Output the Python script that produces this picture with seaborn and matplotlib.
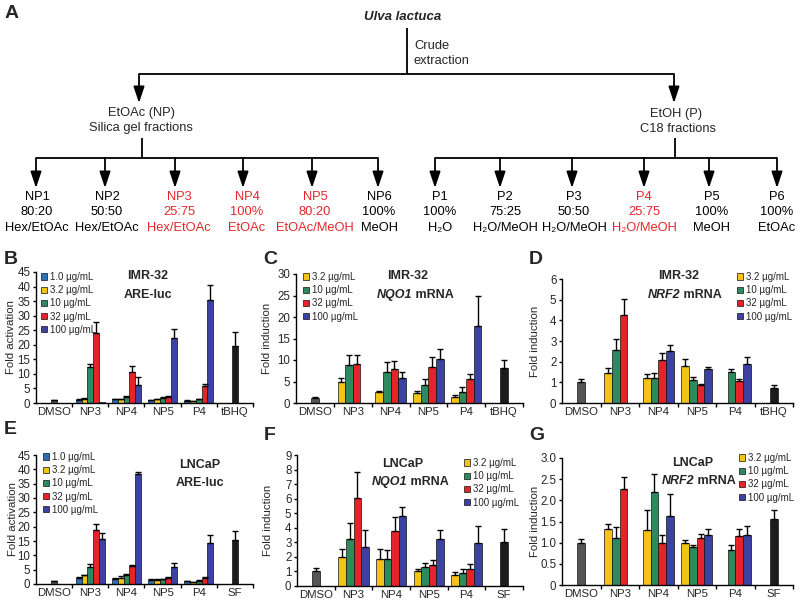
import matplotlib
matplotlib.use('Agg')
import numpy as np
import pandas as pd
import matplotlib.pyplot as plt
import seaborn as sns

sns.set_theme(style='white')
plt.rcParams['font.family'] = ['Liberation Sans', 'DejaVu Sans']

W, H = 800, 606
RED = '#e3262b'
nan = np.nan

# ---------------- data ----------------
conc_labels = ['1.0 µg/mL', '3.2 µg/mL', '10 µg/mL', '32 µg/mL', '100 µg/mL']
conc_colors = ['#2b70b5', '#f5c218', '#2b8a5e', '#e52429', '#3b42a3']
fractions = ['NP3', 'NP4', 'NP5', 'P4']

np_names = ['NP1', 'NP2', 'NP3', 'NP4', 'NP5', 'NP6']
np_ratio = ['80:20', '50:50', '25:75', '100%', '80:20', '100%']
np_solvent = ['Hex/EtOAc', 'Hex/EtOAc', 'Hex/EtOAc', 'EtOAc', 'EtOAc/MeOH', 'MeOH']
p_names = ['P1', 'P2', 'P3', 'P4', 'P5', 'P6']
p_ratio = ['100%', '75:25', '50:50', '25:75', '100%', '100%']
p_solvent = ['H₂O', 'H₂O/MeOH', 'H₂O/MeOH', 'H₂O/MeOH', 'MeOH', 'EtOAc']
active = ['NP3', 'NP4', 'NP5', 'P4']

# B: IMR-32 ARE-luc (5 concentrations)
b_vals = [[1.2, 1.5, 12.4, 24.0, 0.3], [1.3, 1.3, 2.2, 10.8, 6.3],
          [1.0, 1.3, 1.8, 2.2, 22.5], [0.8, 0.7, 1.3, 6.0, 35.5]]
b_errs = [[0.15, 0.2, 1.0, 3.8, 0.0], [0.15, 0.15, 0.2, 1.8, 2.6],
          [0.15, 0.15, 0.2, 0.2, 2.8], [0.1, 0.1, 0.2, 0.4, 5.0]]
b_ctrl = ['DMSO', 'tBHQ']
b_ctrl_vals = [1.0, 19.5]
b_ctrl_errs = [0.2, 4.8]

# C: IMR-32 NQO1 mRNA (4 concentrations)
c_vals = [[4.8, 8.8, 9.1, nan], [2.5, 7.2, 7.9, 5.8],
          [2.3, 4.1, 8.3, 10.2], [1.5, 2.5, 5.6, 18.0]]
c_errs = [[1.0, 2.3, 2.1, nan], [0.4, 2.3, 1.9, 1.4],
          [0.5, 1.5, 2.3, 2.3], [0.4, 1.2, 1.2, 7.0]]
c_ctrl = ['DMSO', 'tBHQ']
c_ctrl_vals = [1.1, 8.2]
c_ctrl_errs = [0.2, 1.8]

# D: IMR-32 NRF2 mRNA
d_vals = [[1.47, 2.56, 4.25, nan], [1.23, 1.2, 2.06, 2.5],
          [1.79, 1.09, 0.88, 1.63], [nan, 1.52, 1.07, 1.87]]
d_errs = [[0.21, 0.56, 0.8, nan], [0.18, 0.27, 0.37, 0.29],
          [0.32, 0.16, 0.05, 0.13], [nan, 0.11, 0.08, 0.34]]
d_ctrl = ['DMSO', 'tBHQ']
d_ctrl_vals = [1.0, 0.75]
d_ctrl_errs = [0.15, 0.13]

# E: LNCaP ARE-luc
e_vals = [[2.2, 3.1, 5.9, 19.0, 15.6], [1.8, 2.1, 3.2, 6.2, 38.4],
          [1.5, 1.5, 1.7, 2.2, 6.0], [0.9, 0.7, 1.2, 2.2, 14.3]]
e_errs = [[0.2, 0.2, 1.2, 1.9, 2.1], [0.2, 0.7, 0.2, 0.3, 0.6],
          [0.1, 0.1, 0.2, 0.2, 1.2], [0.1, 0.1, 0.2, 0.2, 2.9]]
e_ctrl = ['DMSO', 'SF']
e_ctrl_vals = [1.0, 15.5]
e_ctrl_errs = [0.2, 2.9]

# F: LNCaP NQO1 mRNA
f_vals = [[2.0, 3.26, 6.02, 2.69], [1.84, 1.84, 3.77, 4.8],
          [1.01, 1.31, 1.43, 3.22], [0.78, 0.92, 1.2, 2.97]]
f_errs = [[0.57, 1.04, 1.84, 1.19], [0.69, 0.62, 0.94, 0.65],
          [0.19, 0.29, 0.34, 0.62], [0.19, 0.23, 0.29, 1.14]]
f_ctrl = ['DMSO', 'SF']
f_ctrl_vals = [1.06, 3.03]
f_ctrl_errs = [0.18, 0.92]

# G: LNCaP NRF2 mRNA
g_vals = [[1.33, 1.1, 2.26, nan], [1.31, 2.2, 1.0, 1.64],
          [1.0, 0.89, 1.11, 1.17], [nan, 0.83, 1.15, 1.17]]
g_errs = [[0.1, 0.27, 0.3, nan], [0.45, 0.43, 0.19, 0.5],
          [0.07, 0.05, 0.09, 0.16], [nan, 0.12, 0.18, 0.22]]
g_ctrl = ['DMSO', 'SF']
g_ctrl_vals = [1.0, 1.55]
g_ctrl_errs = [0.09, 0.22]

# ---------------- figure ----------------
fig = plt.figure(figsize=(8, 6.06), dpi=100)


def fx(px):
    return px / W


def fy(py):
    return 1 - py / H


# ---- Panel A : flow chart ----
ax0 = fig.add_axes([0, 0, 1, 1])
ax0.set_xlim(0, W)
ax0.set_ylim(H, 0)
ax0.axis('off')
ax0.patch.set_alpha(0)

LW = 1.3


def hline(x0, x1, y):
    ax0.plot([x0, x1], [y, y], color='black', lw=LW, solid_capstyle='butt')


def vline(x, y0, y1):
    ax0.plot([x, x], [y0, y1], color='black', lw=LW, solid_capstyle='butt')


def arrow(x, y0, y1):
    ax0.annotate('', xy=(x, y1), xytext=(x, y0),
                 arrowprops=dict(arrowstyle='-|>,head_length=0.9,head_width=0.3',
                                 color='black', lw=LW, shrinkA=0, shrinkB=0,
                                 mutation_scale=11))


TXT = 9.3
ax0.text(403, 17, 'Ulva lactuca', fontsize=9.5, fontweight='bold', fontstyle='italic',
         ha='center', va='center')
vline(407, 28, 74)
ax0.text(414, 46, 'Crude', fontsize=TXT, ha='left', va='center')
ax0.text(414, 61, 'extraction', fontsize=TXT, ha='left', va='center')
hline(139, 674, 74)
arrow(139, 74, 103)
arrow(674, 74, 103)
ax0.text(141, 113, 'EtOAc (NP)', fontsize=TXT, ha='center', va='center')
ax0.text(141, 128, 'Silica gel fractions', fontsize=TXT, ha='center', va='center')
ax0.text(676, 114, 'EtOH (P)', fontsize=TXT, ha='center', va='center')
ax0.text(678, 129, 'C18 fractions', fontsize=TXT, ha='center', va='center')
vline(142, 138, 158)
vline(675, 138, 158)
hline(36, 378, 158)
hline(435, 777, 158)

np_arrow_x = [36, 105, 175, 243, 312, 378]
p_arrow_x = [435, 500, 572, 644, 709, 777]
np_text_x = [37, 107, 179, 247, 315, 379]
p_text_x = [440, 505, 574, 644, 712, 777]
for ax_x, tx, nm, ra, so in zip(np_arrow_x + p_arrow_x, np_text_x + p_text_x,
                                np_names + p_names, np_ratio + p_ratio,
                                np_solvent + p_solvent):
    arrow(ax_x, 158, 188)
    col = RED if nm in active else 'black'
    for yy, s in zip([197, 212, 228], [nm, ra, so]):
        ax0.text(tx, yy, s, fontsize=TXT, ha='center', va='center', color=col)

# panel letters
for let, (px, py) in {'A': (12, 13), 'B': (11, 260), 'C': (270, 260), 'D': (536, 260),
                      'E': (10, 429), 'F': (270, 435), 'G': (537, 435)}.items():
    fig.text(fx(px), fy(py), let, fontsize=14, fontweight='bold', ha='center', va='center')


def mixed_text(cx, cy, ital, rest, size=9):
    r = fig.canvas.get_renderer()
    t1 = fig.text(0, fy(cy), ital, fontsize=size, fontweight='bold', fontstyle='italic',
                  ha='left', va='center')
    t2 = fig.text(0, fy(cy), rest, fontsize=size, fontweight='bold', ha='left', va='center')
    w1 = t1.get_window_extent(r).width
    w2 = t2.get_window_extent(r).width
    x0 = cx - (w1 + w2) / 2
    t1.set_x(fx(x0))
    t2.set_x(fx(x0 + w1))


def panel(rect, conc_idx, vals, errs, ctrl, ctrl_vals, ctrl_errs, ylim, yticks,
          yticklabels, ylabel, ylabel_x, legend_xy):
    l, t, r, b = rect
    ax = fig.add_axes([fx(l), fy(b), (r - l) / W, (b - t) / H])
    cats = [ctrl[0]] + fractions + [ctrl[1]]
    hues = [conc_labels[i] for i in conc_idx]
    n = len(hues)
    rows = []
    emap = {}
    for ci, (f, vrow, erow) in enumerate(zip(fractions, vals, errs)):
        for hi, (h, v, e) in enumerate(zip(hues, vrow, erow)):
            rows.append((f, h, v))
            emap[(ci + 1, hi)] = e
    df = pd.DataFrame(rows, columns=['cat', 'conc', 'val'])
    pal = {conc_labels[i]: conc_colors[i] for i in conc_idx}
    sns.barplot(data=df, x='cat', y='val', hue='conc', order=cats, hue_order=hues,
                palette=pal, width=0.8, edgecolor='#111111', linewidth=0.5,
                saturation=1, errorbar=None, ax=ax)
    w = 0.8 / n
    for p in list(ax.patches):
        hgt = p.get_height()
        if not np.isfinite(hgt):
            continue
        xc = p.get_x() + p.get_width() / 2
        ci = int(round(xc))
        hi = int(round((xc - ci + 0.4 - w / 2) / w))
        e = emap.get((ci, hi), nan)
        if np.isfinite(e) and e > 0:
            ax.errorbar(xc, hgt, yerr=[[0], [e]], fmt='none', ecolor='black',
                        elinewidth=1, capsize=2.2, capthick=1, zorder=1)
    npatch = len(ax.patches)
    dfc = pd.DataFrame({'cat': ctrl, 'val': ctrl_vals})
    sns.barplot(data=dfc, x='cat', y='val', hue='cat', order=cats, hue_order=ctrl,
                palette={ctrl[0]: '#555555', ctrl[1]: '#1c1c1c'}, width=w,
                edgecolor='#111111', linewidth=0.5, saturation=1, errorbar=None,
                legend=False, ax=ax)
    cerr = {0: ctrl_errs[0], 5: ctrl_errs[1]}
    for p in list(ax.patches)[npatch:]:
        hgt = p.get_height()
        if not np.isfinite(hgt):
            continue
        xc = p.get_x() + p.get_width() / 2
        e = cerr.get(int(round(xc)), nan)
        if np.isfinite(e):
            ax.errorbar(xc, hgt, yerr=[[0], [e]], fmt='none', ecolor='black',
                        elinewidth=1, capsize=2.2, capthick=1, zorder=1)

    # legend
    old = ax.get_legend()
    handles = old.legend_handles
    labels = [tt.get_text() for tt in old.get_texts()]
    old.remove()
    ax.legend(handles, labels, loc='upper left',
              bbox_to_anchor=(fx(legend_xy[0]), fy(legend_xy[1])),
              bbox_transform=fig.transFigure, frameon=False, fontsize=7,
              handlelength=0.6, handleheight=0.6, handletextpad=0.3,
              labelspacing=0.33, borderpad=0, borderaxespad=0)

    ax.set_xlim(-0.5, 5.5)
    ax.set_ylim(*ylim)
    ax.set_yticks(yticks)
    ax.set_yticklabels(yticklabels, fontsize=8.3)
    ax.set_xticks(range(6))
    ax.set_xticklabels(cats, fontsize=8.2)
    ax.set_xticks(np.arange(0.5, 6, 1), minor=True)
    ax.tick_params(axis='x', which='major', length=0, pad=3, bottom=False)
    ax.tick_params(axis='x', which='minor', length=3, width=1, direction='out',
                   color='black', bottom=True)
    ax.tick_params(axis='y', length=2.5, width=1, direction='out', color='black',
                   left=True, pad=1.5)
    for s in ['top', 'right']:
        ax.spines[s].set_visible(False)
    for s in ['left', 'bottom']:
        ax.spines[s].set_color('black')
        ax.spines[s].set_linewidth(1)
    ax.set_xlabel('')
    ax.set_ylabel(ylabel, fontsize=8.2)
    ax.yaxis.label.set_va('center')
    ax.yaxis.set_label_coords((ylabel_x - l) / (r - l), 0.5)
    ax.patch.set_alpha(0)
    return ax


tick45 = list(range(0, 50, 5))
panel((36, 272, 253, 403), [0, 1, 2, 3, 4], b_vals, b_errs, b_ctrl, b_ctrl_vals,
      b_ctrl_errs, (0, 45), tick45, [str(v) for v in tick45], 'Fold activation', 11,
      (41, 272))
fig.text(fx(148), fy(276), 'IMR-32', fontsize=9, fontweight='bold', ha='center', va='center')
fig.text(fx(148), fy(295), 'ARE-luc', fontsize=9, fontweight='bold', ha='center', va='center')

tick30 = list(range(0, 35, 5))
panel((296, 274, 523, 403), [1, 2, 3, 4], c_vals, c_errs, c_ctrl, c_ctrl_vals,
      c_ctrl_errs, (0, 30), tick30, [str(v) for v in tick30], 'Fold induction', 267,
      (303, 272))
fig.text(fx(408), fy(276), 'IMR-32', fontsize=9, fontweight='bold', ha='center', va='center')
mixed_text(415, 295, 'NQO1', ' mRNA')

tick6 = list(range(0, 7))
panel((562, 279, 793, 403), [1, 2, 3, 4], d_vals, d_errs, d_ctrl, d_ctrl_vals,
      d_ctrl_errs, (0, 6), tick6, [str(v) for v in tick6], 'Fold induction', 535,
      (737, 272))
fig.text(fx(679), fy(276), 'IMR-32', fontsize=9, fontweight='bold', ha='center', va='center')
mixed_text(685, 295, 'NRF2', ' mRNA')

panel((36, 455, 253, 584), [0, 1, 2, 3, 4], e_vals, e_errs, e_ctrl, e_ctrl_vals,
      e_ctrl_errs, (0, 45), tick45, [str(v) for v in tick45], 'Fold activation', 13,
      (43, 452))
fig.text(fx(200), fy(465), 'LNCaP', fontsize=9, fontweight='bold', ha='center', va='center')
fig.text(fx(200), fy(483), 'ARE-luc', fontsize=9, fontweight='bold', ha='center', va='center')

tick9 = list(range(0, 10))
panel((297, 455, 523, 586), [1, 2, 3, 4], f_vals, f_errs, f_ctrl, f_ctrl_vals,
      f_ctrl_errs, (0, 9), tick9, [str(v) for v in tick9], 'Fold induction', 268,
      (464, 458))
fig.text(fx(403), fy(464), 'LNCaP', fontsize=9, fontweight='bold', ha='center', va='center')
mixed_text(410, 482, 'NQO1', ' mRNA')

tick3 = [0, 0.5, 1.0, 1.5, 2.0, 2.5, 3.0]
panel((562, 458, 793, 585), [1, 2, 3, 4], g_vals, g_errs, g_ctrl, g_ctrl_vals,
      g_ctrl_errs, (0, 3), tick3, ['0', '0.5', '1.0', '1.5', '2.0', '2.5', '3.0'],
      'Fold induction', 535, (739, 453))
fig.text(fx(693), fy(463), 'LNCaP', fontsize=9, fontweight='bold', ha='center', va='center')
mixed_text(699, 481, 'NRF2', ' mRNA')

fig.savefig('out.png', dpi=100)
